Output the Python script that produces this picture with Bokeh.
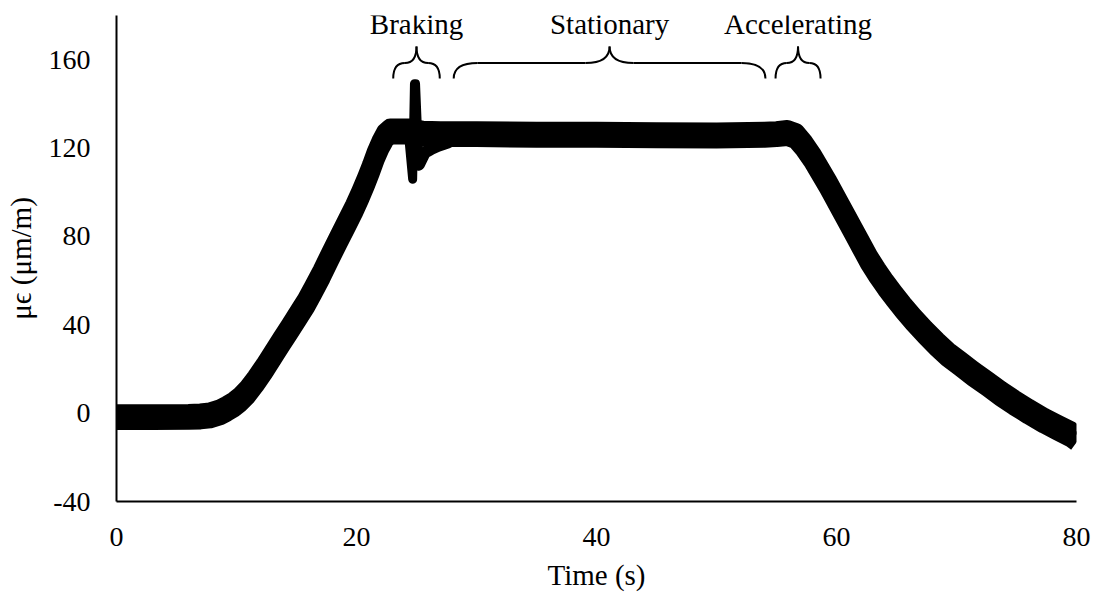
import numpy as np
from bokeh.plotting import figure
from bokeh.models import FixedTicker, Range1d
from bokeh.embed import file_html
from bokeh.resources import INLINE
from bokeh.core.properties import value

# Strain record (centre of the measured trace) against time
time_s = [0, 3, 6, 7, 7.8, 8.6, 9.2, 9.8, 10.3, 10.9, 11.6, 12.3, 13.0, 13.7,
          14.4, 15.1, 15.8, 16.4, 17.1, 17.8, 18.5, 19.2, 19.8, 20.3, 20.8,
          21.2, 21.6, 22.0, 22.4, 22.8, 23.7, 24.3, 25.5, 27, 30, 35, 40, 45,
          50, 54, 55.0, 55.9, 56.6, 57.3, 58.0, 58.7, 59.3, 59.8, 60.4, 60.9,
          61.5, 62.0, 62.7, 63.4, 64.1, 64.8, 65.6, 66.4, 67.4, 68.4, 69.3,
          70.3, 71.4, 72.6, 73.7, 74.8, 76.0, 77.3, 78.4, 79.5, 80]
strain = [-1.8, -1.8, -1.7, -1.5, -1.0, 0.3, 2.0, 4.0, 6.2, 9.5, 14.5, 20.0,
          26.0, 32.0, 37.8, 43.8, 49.8, 55.8, 63.0, 70.9, 78.5, 86.0, 92.5,
          98.5, 105.0, 110.5, 116.5, 121.5, 125.5, 127.5, 127.5, 127.5, 126.5,
          126.3, 126.3, 126.0, 126.0, 125.8, 125.7, 126.0, 126.3, 126.8, 125.5,
          121.0, 115.5, 109.0, 103.5, 98.5, 92.5, 87.5, 81.5, 76.5, 69.5, 63.5,
          58.0, 53.0, 47.5, 42.4, 36.5, 31.0, 26.5, 22.4, 17.8, 13.2, 8.8, 4.8,
          0.7, -3.4, -6.5, -9.5, -11.5]

# Short transient when the brakes are applied: sharp swing, then decay
brake_time_s = [24.3, 24.68, 24.83, 24.92, 25.2]
brake_strain = [128.0, 105.9, 149.1, 149.1, 112.0]
settle_time_s = [25.2, 25.7, 26.2, 26.8, 27.6]
settle_strain = [112.5, 118.0, 119.5, 121.0, 122.5]

# Phases of the run
phase_names = ["Braking", "Stationary", "Accelerating"]
phase_start_s = [23.06, 28.1, 54.92]
phase_end_s = [26.94, 54.08, 58.67]

x_ticks = [0, 20, 40, 60, 80]
y_ticks = [-40, 0, 40, 80, 120, 160]

FONT = "Liberation Serif"
TICK_SIZE = "28px"
LABEL_SIZE = "29px"

p = figure(width=1094, height=594,
           x_range=Range1d(0, 80), y_range=Range1d(-40, 180),
           output_backend="svg", toolbar_location=None,
           min_border_left=116, min_border_right=18,
           min_border_top=15, min_border_bottom=93)
p.background_fill_color = "white"
p.border_fill_color = "white"
p.outline_line_color = None
p.xgrid.visible = False
p.ygrid.visible = False

p.xaxis.ticker = FixedTicker(ticks=x_ticks)
p.yaxis.ticker = FixedTicker(ticks=y_ticks)
p.yaxis.major_label_overrides = {t: str(t) for t in y_ticks}
p.xaxis.axis_label = "Time (s)"
p.yaxis.axis_label = "μϵ (μm/m)"

for ax in (p.xaxis[0], p.yaxis[0]):
    ax.axis_line_color = "black"
    ax.axis_line_width = 2
    ax.major_tick_in = 0
    ax.major_tick_out = 0
    ax.minor_tick_line_color = None
    ax.major_label_text_font = FONT
    ax.major_label_text_font_size = TICK_SIZE
    ax.major_label_text_color = "black"
    ax.axis_label_text_font = FONT
    ax.axis_label_text_font_size = LABEL_SIZE
    ax.axis_label_text_font_style = "normal"
    ax.axis_label_text_color = "black"

p.xaxis.major_label_standoff = 26
p.xaxis.axis_label_standoff = 10
p.yaxis.major_label_standoff = 26
p.yaxis.axis_label_standoff = 9

# Thick noisy trace: two overlapping strokes around the centre line
spread = 1.8
s = np.array(strain)
for offset in (spread, -spread):
    p.line(time_s, s + offset, line_color="black", line_width=18,
           line_join="round", line_cap="butt")

p.line(brake_time_s, brake_strain, line_color="black", line_width=9,
       line_join="round", line_cap="round")
p.line(settle_time_s, settle_strain, line_color="black", line_width=12,
       line_join="round", line_cap="round")

# Curly braces over each phase
y_end, y_bar, y_tip = 151.5, 158.5, 166.0
qx0, qy0, qx1, qy1, qcx, qcy = [], [], [], [], [], []
sx0, sy0, sx1, sy1 = [], [], [], []
for a, b in zip(phase_start_s, phase_end_s):
    m = (a + b) / 2
    half = (b - a) / 2
    r = min(2.0, half / 2)
    # left end, left tip, right tip, right end
    qx0 += [a, m - r, m + r, b]
    qy0 += [y_end, y_bar, y_bar, y_end]
    qx1 += [a + r, m, m, b - r]
    qy1 += [y_bar, y_tip, y_tip, y_bar]
    qcx += [a, m, m, b]
    qcy += [y_bar, y_bar, y_bar, y_bar]
    if half > 2 * r:
        sx0 += [a + r, m + r]
        sy0 += [y_bar, y_bar]
        sx1 += [m - r, b - r]
        sy1 += [y_bar, y_bar]

p.quadratic(x0=qx0, y0=qy0, x1=qx1, y1=qy1, cx=qcx, cy=qcy,
            line_color="black", line_width=2)
if sx0:
    p.segment(x0=sx0, y0=sy0, x1=sx1, y1=sy1, line_color="black", line_width=2)

label_t = [(a + b) / 2 for a, b in zip(phase_start_s, phase_end_s)]
p.text(x=label_t, y=[176.0] * len(label_t), text=phase_names,
       text_align="center", text_baseline="alphabetic",
       text_font=value(FONT), text_font_size=LABEL_SIZE, text_color="black")

open("out.html", "w").write(file_html(p, INLINE))
